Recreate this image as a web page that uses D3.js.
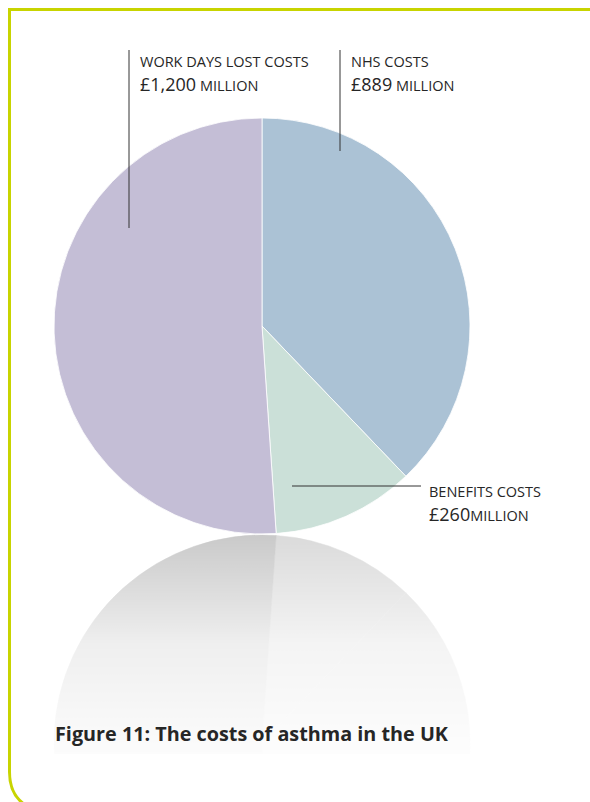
<!DOCTYPE html>
<html>
<head>
<meta charset="utf-8">
<script src="https://cdn.jsdelivr.net/npm/d3@7"></script>
<style>
  body { margin: 0; background: #fff; }
  svg text { font-family: "Open Sans", "Noto Sans", sans-serif; fill: #262626; }
</style>
</head>
<body>
<div id="chart"></div>
<script>
// data
var categories = ["NHS COSTS", "BENEFITS COSTS", "WORK DAYS LOST COSTS"];
var values = [889, 260, 1200];
var amountLabels = ["£889", "£260", "£1,200"];
var unitLabels = [" MILLION", "MILLION", " MILLION"];
var colors = ["#abc2d5", "#cbe0d8", "#c4bed6"];
var reflectColors = ["#dadada", "#dadada", "#c9c9c9"];

var width = 590, height = 802;
var cx = 262, cy = 326, r = 208;
var floorY = cy + r; // mirror line for the reflection
var fadeEnd = 754;

var svg = d3.select("#chart").append("svg")
    .attr("width", width)
    .attr("height", height);

var defs = svg.append("defs");

// fade for the reflection
var grad = defs.append("linearGradient")
    .attr("id", "fade")
    .attr("gradientUnits", "userSpaceOnUse")
    .attr("x1", 0).attr("y1", floorY)
    .attr("x2", 0).attr("y2", fadeEnd);
grad.append("stop").attr("offset", "0%").attr("stop-color", "#fff").attr("stop-opacity", 1);
grad.append("stop").attr("offset", "50%").attr("stop-color", "#fff").attr("stop-opacity", 0.3);
grad.append("stop").attr("offset", "100%").attr("stop-color", "#fff").attr("stop-opacity", 0.06);

defs.append("mask").attr("id", "fadeMask")
    .attr("maskUnits", "userSpaceOnUse")
    .attr("x", 0).attr("y", 0).attr("width", width).attr("height", height)
  .append("rect")
    .attr("x", 0).attr("y", floorY)
    .attr("width", width).attr("height", fadeEnd - floorY)
    .attr("fill", "url(#fade)");

// frame: green rule along the top and left, rounded at the bottom
svg.append("path")
    .attr("d", "M590,9.5 L9.5,9.5 L9.5,772 Q9.5,796 27,806")
    .attr("fill", "none")
    .attr("stroke", "#c8d400")
    .attr("stroke-width", 3);

var pie = d3.pie().sort(null).value(function(d) { return d; });
var arc = d3.arc().innerRadius(0).outerRadius(r);
var arcs = pie(values);

// reflection
svg.append("g")
    .attr("mask", "url(#fadeMask)")
  .append("g")
    .attr("transform", "translate(" + cx + "," + (2 * floorY - cy + 1) + ") scale(1,-1)")
  .selectAll("path")
  .data(arcs)
  .enter().append("path")
    .attr("d", arc)
    .attr("fill", function(d, i) { return reflectColors[i]; })
    .attr("stroke", function(d, i) { return reflectColors[i]; })
    .attr("stroke-width", 0.5);

// pie
var g = svg.append("g").attr("transform", "translate(" + cx + "," + cy + ")");
g.selectAll("path")
  .data(arcs)
  .enter().append("path")
    .attr("d", arc)
    .attr("fill", function(d, i) { return colors[i]; })
    .attr("stroke", "#fff")
    .attr("stroke-width", 0.8);

// leader lines
var leaders = [
  [[340, 50], [340, 151]],
  [[292, 486], [421, 486]],
  [[129, 50], [129, 228]]
];
svg.selectAll(".leader")
  .data(leaders)
  .enter().append("path")
    .attr("class", "leader")
    .attr("d", d3.line())
    .attr("fill", "none")
    .attr("stroke", "#333")
    .attr("stroke-width", 1);

// labels
var labelPos = [[351, 67], [429, 497], [140, 67]];
var lab = svg.selectAll(".lab")
  .data(categories)
  .enter().append("g")
    .attr("class", "lab")
    .attr("transform", function(d, i) { return "translate(" + labelPos[i][0] + "," + labelPos[i][1] + ")"; });

lab.append("text")
    .attr("font-size", "14.5px")
    .text(function(d) { return d; });

var amt = lab.append("text")
    .attr("y", 24);
amt.append("tspan")
    .attr("font-size", "18px")
    .text(function(d, i) { return amountLabels[i]; });
amt.append("tspan")
    .attr("font-size", "14.5px")
    .text(function(d, i) { return unitLabels[i]; });

// title
svg.append("text")
    .attr("x", 55)
    .attr("y", 741)
    .attr("font-size", "19.8px")
    .attr("font-weight", "bold")
    .text("Figure 11: The costs of asthma in the UK");
</script>
</body>
</html>
